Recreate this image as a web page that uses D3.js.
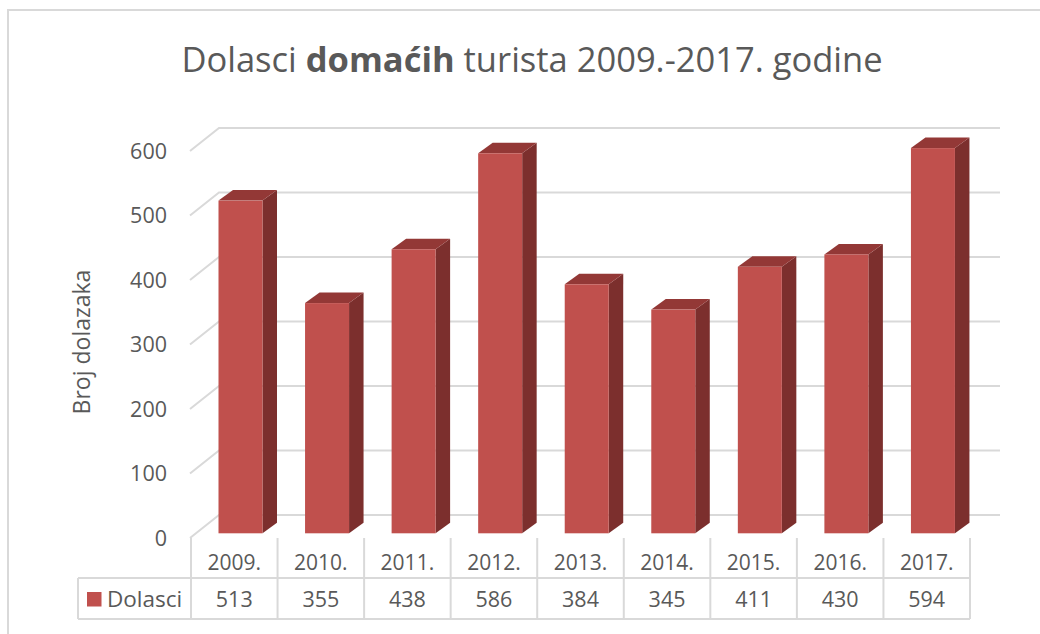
<!DOCTYPE html>
<html>
<head>
<meta charset="utf-8">
<title>Dolasci domaćih turista 2009.-2017.</title>
<style>
  body { margin: 0; background: #fff; }
  text { font-family: "Open Sans", sans-serif; fill: #595959; }
</style>
</head>
<body>
<svg width="1040" height="634"></svg>
<script src="https://cdn.jsdelivr.net/npm/d3@7/dist/d3.min.js"></script>
<script>
// data
var years = ["2009.", "2010.", "2011.", "2012.", "2013.", "2014.", "2015.", "2016.", "2017."];
var arrivals = [513, 355, 438, 586, 384, 345, 411, 430, 594];
var yTicks = [0, 100, 200, 300, 400, 500, 600];
var seriesName = "Dolasci";
var yTitle = "Broj dolazaka";

var svg = d3.select("svg");
var grid = "#d9d9d9";

// outer chart border (only left and top show in the frame)
svg.append("rect")
    .attr("x", 8).attr("y", 10)
    .attr("width", 1100).attr("height", 700)
    .attr("fill", "none")
    .attr("stroke", grid)
    .attr("stroke-width", 2);

// title, with one bold word
var title = svg.append("text")
    .attr("x", 532)
    .attr("y", 72)
    .attr("text-anchor", "middle")
    .attr("font-size", 34.5);
title.append("tspan").text("Dolasci ");
title.append("tspan").attr("font-weight", "bold").text("domaćih");
title.append("tspan").text(" turista 2009.-2017. godine");

var x = d3.scaleBand().domain(years).range([191, 970]);
var y = d3.scaleLinear().domain([0, 600]).range([538, 151]);      // front edge of the floor/side wall
var yBar = d3.scaleLinear().domain([0, 600]).range([533.3, 144.2]); // front plane of the bars
var depth = { dx: 29, dy: -23 };   // side wall depth
var barDepth = { dx: 14.5, dy: -10.5 };
var barW = 44, barOff = 27.5;

// gridlines: diagonal on the side wall, horizontal on the back wall
var gl = svg.append("g").attr("fill", "none").attr("stroke", grid).attr("stroke-width", 2);
gl.selectAll("path")
  .data(yTicks)
  .enter().append("path")
    .attr("d", function(d) {
      var x0 = x.range()[0] - 1, y0 = y(d);
      return "M" + x0 + "," + y0 +
             "L" + (x0 + depth.dx) + "," + (y0 + depth.dy) +
             "L" + (x.range()[1] + 30) + "," + (y0 + depth.dy);
    });

// y tick labels
svg.append("g").selectAll("text")
  .data(yTicks)
  .enter().append("text")
    .attr("x", 167)
    .attr("y", function(d) { return y(d); })
    .attr("dy", "0.36em")
    .attr("text-anchor", "end")
    .attr("font-size", 21.5)
    .text(function(d) { return d; });

svg.append("text")
    .attr("transform", "translate(90,342) rotate(-90)")
    .attr("text-anchor", "middle")
    .attr("font-size", 23)
    .text(yTitle);

// 3d bars
var bars = svg.append("g").selectAll("g")
  .data(arrivals)
  .enter().append("g");

function pts(a) { return a.map(function(p) { return p.join(","); }).join(" "); }

bars.append("polygon")   // side
    .attr("fill", "#7c2f2d")
    .attr("points", function(d, i) {
      var x1 = x(years[i]) + barOff + barW, yt = yBar(d), yb = yBar(0);
      return pts([[x1, yt], [x1 + barDepth.dx, yt + barDepth.dy],
                  [x1 + barDepth.dx, yb + barDepth.dy], [x1, yb]]);
    });
bars.append("polygon")   // top
    .attr("fill", "#933836")
    .attr("points", function(d, i) {
      var x0 = x(years[i]) + barOff, yt = yBar(d);
      return pts([[x0, yt], [x0 + barDepth.dx, yt + barDepth.dy],
                  [x0 + barW + barDepth.dx, yt + barDepth.dy], [x0 + barW, yt]]);
    });
bars.append("rect")      // front
    .attr("fill", "#c0504d")
    .attr("x", function(d, i) { return x(years[i]) + barOff; })
    .attr("y", function(d) { return yBar(d); })
    .attr("width", barW)
    .attr("height", function(d) { return yBar(0) - yBar(d); });

// data table under the chart
var rowTop = 538, rowMid = 578, rowBot = 619, legLeft = 78;
var tbl = svg.append("g").attr("stroke", grid).attr("stroke-width", 2);
tbl.selectAll("line.v")
  .data(years.concat(["end"]))
  .enter().append("line")
    .attr("x1", function(d) { return d == "end" ? x.range()[1] : x(d); })
    .attr("x2", function(d) { return d == "end" ? x.range()[1] : x(d); })
    .attr("y1", rowTop).attr("y2", rowBot);
tbl.append("line").attr("x1", legLeft).attr("x2", x.range()[1]).attr("y1", rowMid).attr("y2", rowMid);
tbl.append("line").attr("x1", legLeft).attr("x2", x.range()[1]).attr("y1", rowBot).attr("y2", rowBot);
tbl.append("line").attr("x1", legLeft).attr("x2", legLeft).attr("y1", rowMid).attr("y2", rowBot);

svg.append("g").selectAll("text")
  .data(years)
  .enter().append("text")
    .attr("x", function(d) { return x(d) + x.bandwidth() / 2; })
    .attr("y", 562)
    .attr("dy", "0.36em")
    .attr("text-anchor", "middle")
    .attr("font-size", 21)
    .text(function(d) { return d; });

svg.append("g").selectAll("text")
  .data(arrivals)
  .enter().append("text")
    .attr("x", function(d, i) { return x(years[i]) + x.bandwidth() / 2; })
    .attr("y", 599)
    .attr("dy", "0.36em")
    .attr("text-anchor", "middle")
    .attr("font-size", 21.5)
    .text(function(d) { return d; });

svg.append("rect")
    .attr("x", 87).attr("y", 592)
    .attr("width", 14.5).attr("height", 14.5)
    .attr("fill", "#c0504d");
svg.append("text")
    .attr("x", 107)
    .attr("y", 599)
    .attr("dy", "0.36em")
    .attr("font-size", 22.5)
    .text(seriesName);
</script>
</body>
</html>
